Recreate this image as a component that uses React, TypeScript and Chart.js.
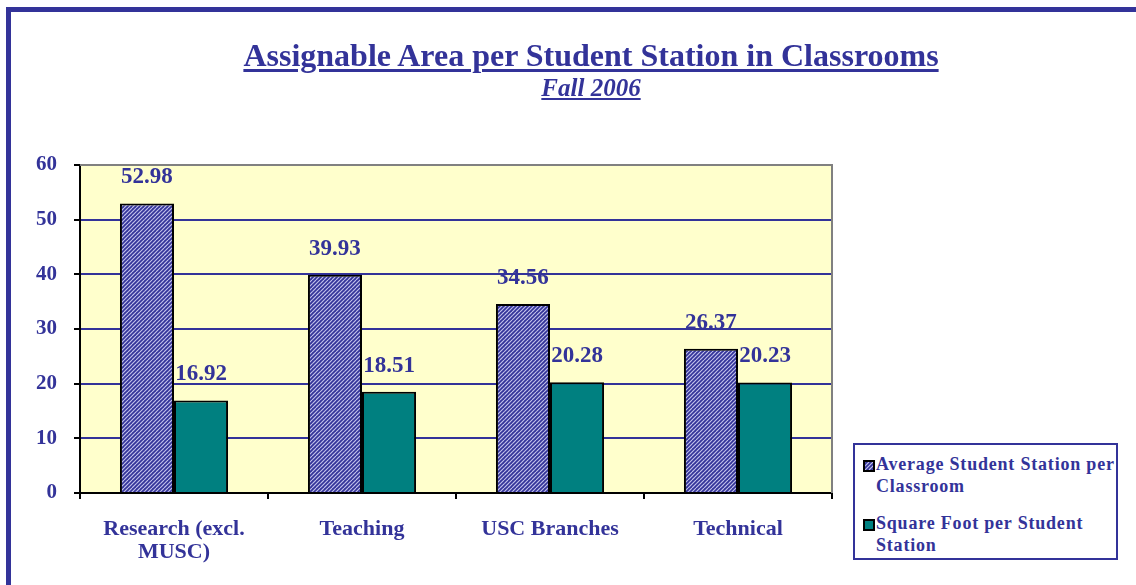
import React, { useEffect, useRef } from "react";
import { Chart, registerables } from "chart.js";

Chart.register(...registerables);

const categories: (string | string[])[] = [["Research (excl.", "MUSC)"], "Teaching", "USC Branches", "Technical"];
const avgStationValues = [52.98, 39.93, 34.56, 26.37];
const sqFootValues = [16.92, 18.51, 20.28, 20.23];
const yTicks = [0, 10, 20, 30, 40, 50, 60];
const seriesNames = ["Average Student Station per Classroom", "Square Foot per Student Station"];

const BLUE = "#333399";
const TEAL = "#008080";
const FONT = "'Liberation Serif', 'Times New Roman', serif";

function makeHatch(): CanvasPattern | string {
  const c = document.createElement("canvas");
  c.width = 8;
  c.height = 8;
  const ctx = c.getContext("2d");
  if (!ctx) return BLUE;
  ctx.fillStyle = BLUE;
  ctx.fillRect(0, 0, 8, 8);
  ctx.strokeStyle = "#c0c0ea";
  ctx.lineWidth = 1.2;
  for (let x = -8; x <= 16; x += 4) {
    ctx.beginPath();
    ctx.moveTo(x, 8);
    ctx.lineTo(x + 8, 0);
    ctx.stroke();
  }
  const p = ctx.createPattern(c, "repeat");
  return p || BLUE;
}

const bgPlugin = {
  id: "plotBg",
  beforeDraw(chart: any) {
    const { ctx, chartArea } = chart;
    ctx.save();
    ctx.fillStyle = "#FFFFCC";
    ctx.fillRect(chartArea.left, chartArea.top, chartArea.right - chartArea.left, chartArea.bottom - chartArea.top);
    ctx.restore();
  },
  afterDraw(chart: any) {
    const { ctx, chartArea } = chart;
    ctx.save();
    ctx.strokeStyle = "#808080";
    ctx.lineWidth = 2;
    ctx.beginPath();
    ctx.moveTo(chartArea.left, chartArea.top);
    ctx.lineTo(chartArea.right, chartArea.top);
    ctx.lineTo(chartArea.right, chartArea.bottom);
    ctx.stroke();
    ctx.restore();
  },
};

const labelPlugin = {
  id: "valueLabels",
  afterDatasetsDraw(chart: any) {
    const { ctx } = chart;
    ctx.save();
    ctx.font = `bold 23px ${FONT}`;
    ctx.fillStyle = BLUE;
    ctx.textAlign = "center";
    ctx.textBaseline = "middle";
    chart.data.datasets.forEach((ds: any, i: number) => {
      const meta = chart.getDatasetMeta(i);
      meta.data.forEach((el: any, j: number) => {
        ctx.fillText(Number(ds.data[j]).toFixed(2), el.x, el.y - 26);
      });
    });
    ctx.restore();
  },
};

export default function App() {
  const ref = useRef<HTMLCanvasElement | null>(null);
  const hatchRef = useRef<HTMLSpanElement | null>(null);

  useEffect(() => {
    if (!ref.current) return;
    const hatch = makeHatch();
    const chart = new Chart(ref.current, {
      type: "bar",
      data: {
        labels: categories,
        datasets: [
          {
            label: seriesNames[0],
            data: avgStationValues,
            backgroundColor: hatch as any,
            borderColor: "#000000",
            borderWidth: 2,
          },
          {
            label: seriesNames[1],
            data: sqFootValues,
            backgroundColor: TEAL,
            borderColor: "#000000",
            borderWidth: 2,
          },
        ],
      },
      options: {
        animation: false,
        responsive: false,
        maintainAspectRatio: false,
        layout: { padding: { top: 165, right: 304, left: 0, bottom: 0 } },
        datasets: { bar: { categoryPercentage: 0.575, barPercentage: 1 } },
        plugins: {
          legend: { display: false },
          title: { display: false },
          tooltip: { enabled: false },
        },
        scales: {
          x: {
            offset: true,
            afterFit(scale: any) {
              scale.height = 92;
            },
            grid: {
              offset: true,
              drawOnChartArea: false,
              drawTicks: true,
              tickLength: 6,
              tickColor: "#000000",
              tickWidth: 2,
              lineWidth: 2,
              color: "#000000",
            },
            border: { color: "#000000", width: 2 },
            ticks: {
              color: BLUE,
              font: { family: FONT, size: 22, weight: "bold", lineHeight: 1.05 },
              padding: 19,
              maxRotation: 0,
              autoSkip: false,
            },
          },
          y: {
            min: 0,
            max: 60,
            afterFit(scale: any) {
              scale.width = 80;
            },
            afterBuildTicks(scale: any) {
              scale.ticks = yTicks.map((v) => ({ value: v }));
            },
            grid: {
              color: (c: any) => (c.tick && (c.tick.value === 60 || c.tick.value === 0) ? "rgba(0,0,0,0)" : BLUE),
              lineWidth: 2,
              tickLength: 6,
              tickColor: "#000000",
              tickWidth: 2,
            },
            border: { color: "#000000", width: 2 },
            ticks: {
              color: BLUE,
              font: { family: FONT, size: 21, weight: "bold" },
              padding: 17,
            },
          },
        },
      },
      plugins: [bgPlugin, labelPlugin],
    });

    if (hatchRef.current) {
      const c = document.createElement("canvas");
      c.width = 8;
      c.height = 8;
      const cx = c.getContext("2d");
      if (cx) {
        const p = makeHatch();
        cx.fillStyle = p as any;
        cx.fillRect(0, 0, 8, 8);
        hatchRef.current.style.backgroundImage = `url(${c.toDataURL()})`;
      }
    }
    return () => chart.destroy();
  }, []);

  const legendText: React.CSSProperties = {
    fontFamily: FONT,
    fontWeight: "bold",
    fontSize: 18,
    letterSpacing: "0.8px",
    lineHeight: "22px",
    color: BLUE,
  };
  const marker: React.CSSProperties = {
    position: "absolute",
    left: 8,
    width: 8,
    height: 8,
    border: "2px solid #000",
  };

  return (
    <div style={{ position: "fixed", left: 0, top: 0, width: 1136, height: 585, overflow: "hidden", background: "#fff" }}>
      <div
        style={{
          position: "absolute",
          left: 6,
          top: 7,
          width: 1300,
          height: 800,
          border: `5px solid ${BLUE}`,
          boxSizing: "border-box",
        }}
      />
      <canvas ref={ref} width={1136} height={585} style={{ position: "absolute", left: 0, top: 0, width: 1136, height: 585 }} />
      <div
        style={{
          position: "absolute",
          left: 0,
          width: 1182,
          top: 37,
          textAlign: "center",
          fontFamily: FONT,
          fontWeight: "bold",
          fontSize: 32,
          lineHeight: "36px",
          color: BLUE,
          textDecoration: "underline",
          textDecorationThickness: "3px",
          textUnderlineOffset: "3px",
          whiteSpace: "nowrap",
        }}
      >
        Assignable Area per Student Station in Classrooms
      </div>
      <div
        style={{
          position: "absolute",
          left: 0,
          width: 1182,
          top: 74,
          textAlign: "center",
          fontFamily: FONT,
          fontWeight: "bold",
          fontStyle: "italic",
          fontSize: 25,
          lineHeight: "28px",
          color: BLUE,
          textDecoration: "underline",
          textDecorationThickness: "2px",
          textUnderlineOffset: "2px",
        }}
      >
        Fall 2006
      </div>
      <div
        style={{
          position: "absolute",
          left: 853,
          top: 443,
          width: 265,
          height: 117,
          border: `2px solid ${BLUE}`,
          boxSizing: "border-box",
          background: "#fff",
        }}
      >
        <span ref={hatchRef} style={{ ...marker, top: 15, backgroundColor: BLUE }} />
        <div style={{ ...legendText, position: "absolute", left: 21, top: 8, width: 240 }}>{seriesNames[0]}</div>
        <span style={{ ...marker, top: 74, backgroundColor: TEAL }} />
        <div style={{ ...legendText, position: "absolute", left: 21, top: 67, width: 240 }}>{seriesNames[1]}</div>
      </div>
    </div>
  );
}
